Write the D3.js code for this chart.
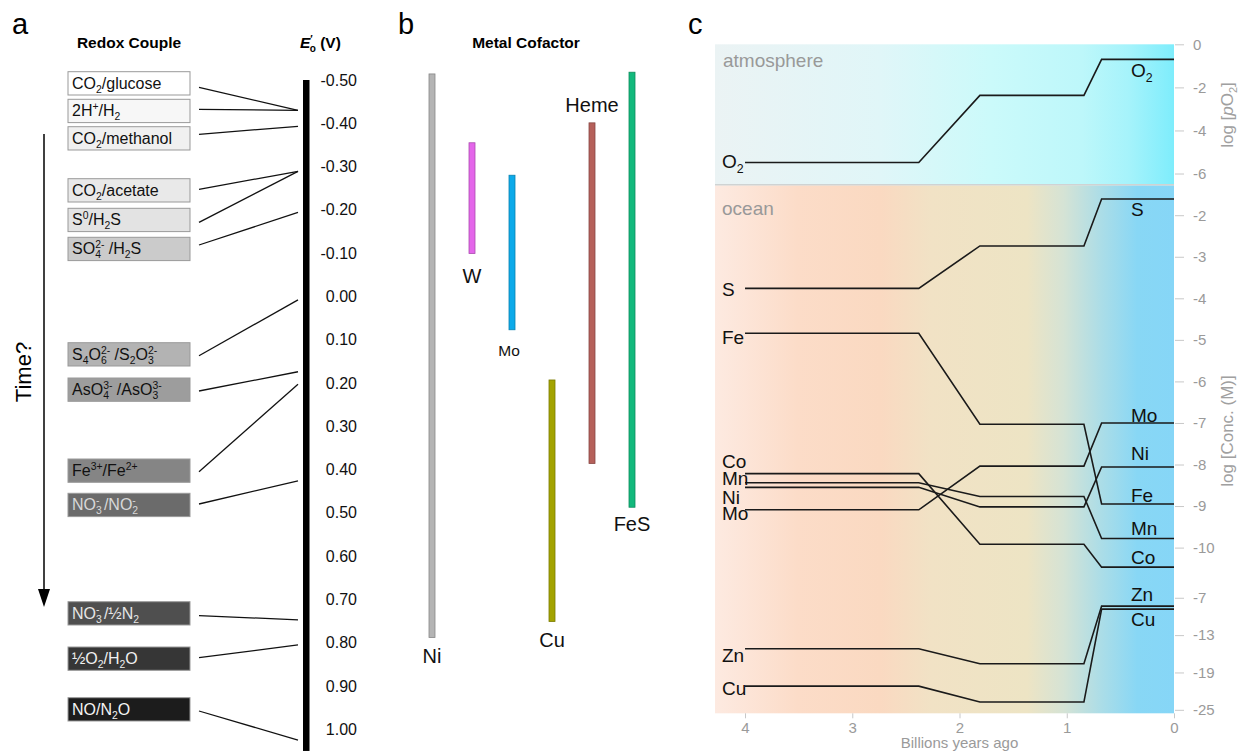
<!DOCTYPE html>
<html>
<head>
<meta charset="utf-8">
<script src="https://cdn.jsdelivr.net/npm/d3@7"></script>
<style>
  body { margin: 0; background: #fff; }
  svg { font-family: "Liberation Sans", Arial, sans-serif; }
</style>
</head>
<body>
<div id="chart"></div>
<script>
// ---- panel a : redox couples, midpoint potential E'o (V)
var couples = ['CO_{2}/glucose', '2H^{+}/H_{2}', 'CO_{2}/methanol', 'CO_{2}/acetate',
  'S^{0}/H_{2}S', 'SO@{4}{2-} /H_{2}S', 'S_{4}O@{6}{2-} /S_{2}O@{3}{2-}', 'AsO@{4}{3-} /AsO@{3}{3-}',
  'Fe^{3+}/Fe^{2+}', 'NO@{3}{-} /NO@{2}{-}', 'NO@{3}{-} /½N_{2}', '½O_{2}/H_{2}O', 'NO/N_{2}O'];
var potentials = [-0.43, -0.43, -0.393, -0.289, -0.289, -0.194, 0.008, 0.174, 0.203, 0.426, 0.747, 0.805, 1.025];
var potentialTicks = [-0.5, -0.4, -0.3, -0.2, -0.1, 0, 0.1, 0.2, 0.3, 0.4, 0.5, 0.6, 0.7, 0.8, 0.9, 1.0];

// ---- panel b : metal cofactor potential ranges (V)
var cofactors = ['Ni', 'W', 'Mo', 'Cu', 'Heme', 'FeS'];
var cofactorLow = [-0.514, -0.355, -0.28, 0.193, -0.401, -0.518];
var cofactorHigh = [0.788, -0.099, 0.077, 0.751, 0.386, 0.487];

// ---- panel c : atmosphere / ocean chemistry through time
var ages = [4.0, 2.38, 1.81, 0.84, 0.675, 0];
var o2 = [-5.49, -5.49, -2.37, -2.37, -0.70, -0.70];
var sulfur = [-3.76, -3.76, -2.74, -2.74, -1.61, -1.61];
var iron = [-4.84, -4.84, -7.03, -7.03, -8.95, -8.95];
var cobalt = [-8.22, -8.22, -9.92, -9.92, -10.47, -10.47];
var manganese = [-8.44, -8.44, -8.77, -8.77, -9.78, -9.78];
var nickel = [-8.55, -8.55, -9.02, -9.02, -8.06, -8.06];
var molybdenum = [-9.09, -9.09, -8.04, -8.04, -7.0, -7.0];
var zinc = [-15.2, -15.2, -17.6, -17.6, -8.34, -8.34];
var copper = [-21.2, -21.2, -23.75, -23.75, -8.82, -8.82];
var ageTicks = [4, 3, 2, 1, 0];
var o2Ticks = [0, -2, -4, -6];
var concTicks = [-2, -3, -4, -5, -6, -7, -8, -9, -10];
var traceTicks = [-7, -13, -19, -25];

var svg = d3.select('#chart').append('svg')
    .attr('width', 1245)
    .attr('height', 754);

// text with _{sub}, ^{sup} and @{sub}{sup} (stacked) markup
function richText(sel, str, size) {
  var small = size * 0.65, down = size * 0.25, up = -size * 0.38, shift = 0;
  str.split(/(_\{[^}]*\}|\^\{[^}]*\}|@\{[^}]*\}\{[^}]*\})/).filter(Boolean).forEach(function(p) {
    if (p.slice(0, 2) === '_{') {
      sel.append('tspan').attr('dy', down - shift).style('font-size', small + 'px').text(p.slice(2, -1));
      shift = down;
    } else if (p.slice(0, 2) === '^{') {
      sel.append('tspan').attr('dy', up - shift).style('font-size', small + 'px').text(p.slice(2, -1));
      shift = up;
    } else if (p.slice(0, 2) === '@{') {
      var m = p.match(/@\{([^}]*)\}\{([^}]*)\}/);
      var lo = sel.append('tspan').attr('dy', down - shift).style('font-size', small + 'px').text(m[1]);
      var w = lo.node().getComputedTextLength();
      sel.append('tspan').attr('dx', -w).attr('dy', up - down).style('font-size', small + 'px').text(m[2]);
      shift = up;
    } else {
      sel.append('tspan').attr('dy', -shift).text(p);
      shift = 0;
    }
  });
}

// panel letters
svg.selectAll('.letter')
  .data([['a', 12], ['b', 398], ['c', 688]])
    .enter().append('text')
  .attr('x', function(d) { return d[1]; })
  .attr('y', 34)
  .style('font-size', '29px')
  .text(function(d) { return d[0]; });

// ======================= panel a
var v = d3.scaleLinear().domain([-0.5, 1.0]).range([80, 729.3]);

var boxTop = d3.scaleOrdinal()
    .domain(couples)
    .range([71.7, 99.3, 126.7, 178.7, 208.3, 237.3, 342.7, 378, 459, 493.3, 601.7, 647, 697.7]);
var lineStart = d3.scaleOrdinal()
    .domain(couples)
    .range([87.3, 109.3, 134.3, 189.3, 222.3, 245, 355.7, 391, 471.7, 504, 615.7, 657.7, 711]);
var boxFill = d3.scaleOrdinal()
    .domain(couples)
    .range(['#ffffff', '#f7f7f7', '#f0f0f0', '#e9e9e9', '#e3e3e3', '#cbcbcb', '#b3b3b3',
            '#9d9d9d', '#858585', '#6b6b6b', '#4f4f4f', '#363636', '#1c1c1c']);
var boxText = d3.scaleOrdinal()
    .domain(couples)
    .range(['#111', '#111', '#111', '#111', '#111', '#111', '#111', '#111', '#111',
            '#d8d8d8', '#e6e6e6', '#f0f0f0', '#f4f4f4']);

svg.append('text')
  .attr('x', 129).attr('y', 48)
  .attr('text-anchor', 'middle')
  .style('font-size', '15.5px').style('font-weight', 'bold')
  .text('Redox Couple');

var eo = svg.append('text')
  .attr('x', 300).attr('y', 48)
  .style('font-size', '15.5px').style('font-weight', 'bold');
eo.append('tspan').style('font-style', 'italic').text('E');
eo.append('tspan').attr('dy', -5).style('font-size', '10px').text('′');
eo.append('tspan').attr('dx', -3).attr('dy', 9).style('font-size', '10px').text('o');
eo.append('tspan').attr('dy', -4).text(' (V)');

var couple = svg.selectAll('.couple')
  .data(couples)
    .enter().append('g')
  .attr('class', 'couple');

couple.append('rect')
  .attr('x', 68)
  .attr('y', function(d) { return boxTop(d); })
  .attr('width', 122)
  .attr('height', 23.3)
  .style('fill', function(d) { return boxFill(d); })
  .style('stroke', '#999')
  .style('stroke-width', 1);

couple.append('text')
  .attr('x', 72)
  .attr('y', function(d) { return boxTop(d) + 17; })
  .style('font-size', '16px')
  .style('fill', function(d) { return boxText(d); })
  .each(function(d) { richText(d3.select(this), d, 16); });

couple.append('line')
  .attr('x1', 199)
  .attr('y1', function(d) { return lineStart(d); })
  .attr('x2', 298)
  .attr('y2', function(d, i) { return v(potentials[i]); })
  .style('stroke', '#111')
  .style('stroke-width', 1.3);

// potential bar
svg.append('rect')
  .attr('x', 303)
  .attr('y', v(-0.5))
  .attr('width', 6.5)
  .attr('height', v(1.05) - v(-0.5))
  .style('fill', '#000');

svg.selectAll('.vtick')
  .data(potentialTicks)
    .enter().append('text')
  .attr('x', 357)
  .attr('y', function(d) { return v(d); })
  .attr('dy', '0.35em')
  .attr('text-anchor', 'end')
  .style('font-size', '16px')
  .style('fill', '#111')
  .text(function(d) { return d.toFixed(2); });

// time arrow
svg.append('line')
  .attr('x1', 44).attr('x2', 44)
  .attr('y1', 134).attr('y2', 594)
  .style('stroke', '#000').style('stroke-width', 1.5);
svg.append('path')
  .attr('d', 'M38,589L50,589L44,607Z')
  .style('fill', '#000');
svg.append('text')
  .attr('transform', 'translate(31,372) rotate(-90)')
  .attr('text-anchor', 'middle')
  .style('font-size', '22px')
  .text('Time?');

// ======================= panel b
var px = d3.scalePoint().domain(cofactors).range([432, 632]);
var cofColor = d3.scaleOrdinal()
    .domain(cofactors)
    .range(['#b4b4b4', '#e466ea', '#0caaea', '#a3a300', '#b5605a', '#12b97c']);
var cofLabelY = d3.scaleOrdinal()
    .domain(cofactors)
    .range([25, 29, 26, 25, -11, 24]);

svg.append('text')
  .attr('x', 526).attr('y', 48)
  .attr('text-anchor', 'middle')
  .style('font-size', '15.5px').style('font-weight', 'bold')
  .text('Metal Cofactor');

var cof = svg.selectAll('.cof')
  .data(cofactors)
    .enter().append('g')
  .attr('class', 'cof');

cof.append('rect')
  .attr('x', function(d) { return px(d) - 3; })
  .attr('y', function(d, i) { return v(cofactorLow[i]); })
  .attr('width', 6)
  .attr('height', function(d, i) { return v(cofactorHigh[i]) - v(cofactorLow[i]); })
  .style('fill', function(d) { return cofColor(d); })
  .style('stroke', function(d) { return d3.color(cofColor(d)).darker(0.8); })
  .style('stroke-width', 0.8);

cof.append('text')
  .attr('x', function(d) { return px(d) + (d === 'Mo' ? -3 : 0); })
  .attr('y', function(d, i) {
    var off = cofLabelY(d);
    return off < 0 ? v(cofactorLow[i]) + off : v(cofactorHigh[i]) + off;
  })
  .attr('text-anchor', 'middle')
  .style('font-size', function(d) { return d === 'Mo' ? '15.5px' : '20px'; })
  .style('fill', '#111')
  .text(function(d) { return d; });

// ======================= panel c
var x = d3.scaleLinear().domain([4.28, 0]).range([715, 1174]);
var yAtm = d3.scaleLinear().domain([0, -6.5]).range([44.3, 184.3]);
var yConc = d3.scaleLinear().domain([-1.28, -10.9]).range([185.3, 585]);
var yTrace = d3.scaleLinear().domain([-4.95, -25.56]).range([585, 713.3]);

var defs = svg.append('defs');
function gradient(id, stops) {
  var g = defs.append('linearGradient').attr('id', id)
      .attr('x1', 0).attr('x2', 1).attr('y1', 0).attr('y2', 0);
  stops.forEach(function(s) {
    g.append('stop').attr('offset', s[0]).attr('stop-color', s[1]);
  });
}
gradient('atmGrad', [[0, '#ebf3f4'], [0.36, '#e0f6f8'], [0.6, '#cbfafa'], [0.8, '#bdf7fa'], [0.9, '#a6f3fb'], [1, '#7eedfc']]);
gradient('oceanGrad', [[0, '#fdeae1'], [0.18, '#fcdcc8'], [0.36, '#fad9c1'], [0.47, '#f1e2c5'],
  [0.68, '#ede4c4'], [0.76, '#d5e3d5'], [0.84, '#acdde7'], [0.92, '#88d7f5'], [1, '#86d6f7']]);

svg.append('rect')
  .attr('x', x.range()[0]).attr('y', yAtm.range()[0])
  .attr('width', x.range()[1] - x.range()[0])
  .attr('height', yAtm.range()[1] - yAtm.range()[0])
  .style('fill', 'url(#atmGrad)');
svg.append('rect')
  .attr('x', x.range()[0]).attr('y', yConc.range()[0])
  .attr('width', x.range()[1] - x.range()[0])
  .attr('height', yTrace.range()[1] - yConc.range()[0])
  .style('fill', 'url(#oceanGrad)');
svg.append('line')
  .attr('x1', x.range()[0]).attr('x2', x.range()[1])
  .attr('y1', 184.8).attr('y2', 184.8)
  .style('stroke', '#cfd3d3').style('stroke-width', 1.5);

svg.append('text').attr('x', 723).attr('y', 67)
  .style('font-size', '19px').style('fill', '#999').text('atmosphere');
svg.append('text').attr('x', 722).attr('y', 215)
  .style('font-size', '19px').style('fill', '#999').text('ocean');

var series = [
  {name: 'O_{2}', values: o2, y: yAtm, left: 5.5, right: 17.7},
  {name: 'S', values: sulfur, y: yConc, left: 8, right: 17},
  {name: 'Fe', values: iron, y: yConc, left: 11, right: -2},
  {name: 'Co', values: cobalt, y: yConc, left: -5.5, right: -3.3},
  {name: 'Mn', values: manganese, y: yConc, left: 2.5, right: -3.7},
  {name: 'Ni', values: nickel, y: yConc, left: 16.5, right: -6.6},
  {name: 'Mo', values: molybdenum, y: yConc, left: 10, right: -1},
  {name: 'Zn', values: zinc, y: yTrace, left: 13, right: -5},
  {name: 'Cu', values: copper, y: yTrace, left: 8.5, right: 17.3}
];

var trend = svg.selectAll('.trend')
  .data(series)
    .enter().append('g')
  .attr('class', 'trend');

trend.append('path')
  .attr('d', function(s) {
    return d3.line()
      .x(function(d) { return x(d[0]); })
      .y(function(d) { return s.y(d[1]); })(ages.map(function(t, i) { return [t, s.values[i]]; }));
  })
  .style('fill', 'none')
  .style('stroke', '#1a1a1a')
  .style('stroke-width', 1.6);

trend.append('text')
  .attr('x', 722)
  .attr('y', function(s) { return s.y(s.values[0]) + s.left; })
  .style('font-size', '19px')
  .style('fill', '#111')
  .each(function(s) { richText(d3.select(this), s.name, 19); });

trend.append('text')
  .attr('x', 1131)
  .attr('y', function(s) { return s.y(s.values[s.values.length - 1]) + s.right; })
  .style('font-size', '19px')
  .style('fill', '#111')
  .each(function(s) { richText(d3.select(this), s.name, 19); });

function styleAxis(g) {
  g.select('.domain').remove();
  g.selectAll('.tick line').style('stroke', '#c8c8c8');
  g.selectAll('.tick text').style('fill', '#9a9a9a').style('font-size', '15px')
    .style('font-family', '"Liberation Sans", Arial, sans-serif');
}
var fmt = function(d) { return String(d); };

svg.append('g')
  .attr('transform', 'translate(1175,0)')
  .call(d3.axisRight(yAtm).tickValues(o2Ticks).tickFormat(fmt).tickSize(9).tickPadding(9))
  .call(styleAxis);
svg.append('g')
  .attr('transform', 'translate(1175,0)')
  .call(d3.axisRight(yConc).tickValues(concTicks).tickFormat(fmt).tickSize(9).tickPadding(9))
  .call(styleAxis);
svg.append('g')
  .attr('transform', 'translate(1175,0)')
  .call(d3.axisRight(yTrace).tickValues(traceTicks).tickFormat(fmt).tickSize(9).tickPadding(9))
  .call(styleAxis);
svg.append('g')
  .attr('transform', 'translate(0,' + yTrace.range()[1] + ')')
  .call(d3.axisBottom(x).tickValues(ageTicks).tickFormat(fmt).tickSize(5).tickPadding(4))
  .call(styleAxis);

svg.append('text')
  .attr('x', x(2)).attr('y', 748)
  .attr('text-anchor', 'middle')
  .style('font-size', '15px').style('fill', '#9a9a9a')
  .text('Billions years ago');

var po2 = svg.append('text')
  .attr('transform', 'translate(1233,115) rotate(-90)')
  .attr('text-anchor', 'middle')
  .style('font-size', '17px').style('fill', '#a0a0a0');
po2.append('tspan').text('log [');
po2.append('tspan').style('font-style', 'italic').text('p');
po2.append('tspan').text('O');
po2.append('tspan').attr('dy', 4).style('font-size', '11px').text('2');
po2.append('tspan').attr('dy', -4).text(']');

svg.append('text')
  .attr('transform', 'translate(1233,431) rotate(-90)')
  .attr('text-anchor', 'middle')
  .style('font-size', '17px').style('fill', '#a0a0a0')
  .text('log [Conc. (M)]');
</script>
</body>
</html>
